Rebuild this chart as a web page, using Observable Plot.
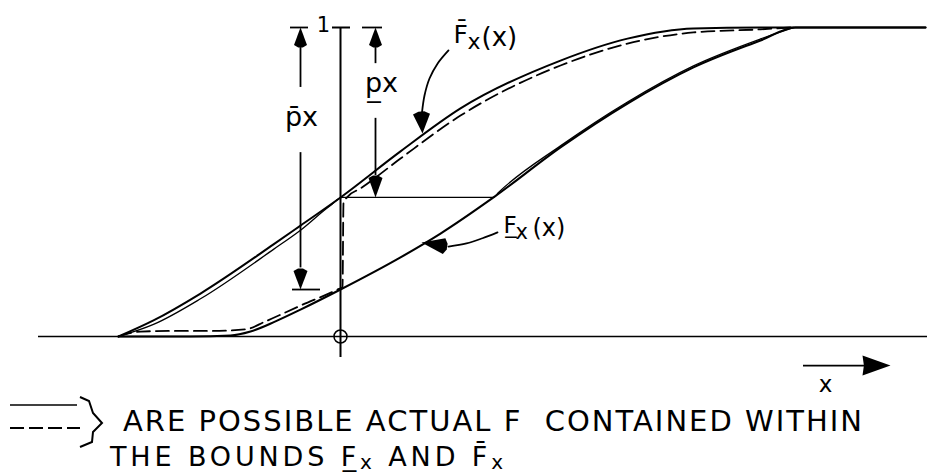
<!DOCTYPE html>
<html>
<head>
<meta charset="utf-8">
<script src="https://cdn.jsdelivr.net/npm/d3@7"></script>
<script src="https://cdn.jsdelivr.net/npm/@observablehq/plot@0.6"></script>
<style>
  html, body { margin: 0; padding: 0; background: #fff; }
  svg { display: block; }
  #key text { font-family: "DejaVu Sans", sans-serif; white-space: pre; }
</style>
</head>
<body>
<div id="chart"></div>
<script>
// Upper bound F̄x(x) of the distribution function
const upperX = [-2.22, -1.87, -1.40, -0.67, -0.40, 0, 0.60, 1.20, 2.20, 2.87, 3.53, 4.20, 4.50, 5.85];
const upperF = [0, 0.052, 0.139, 0.298, 0.359, 0.450, 0.599, 0.738, 0.893, 0.964, 0.997, 1, 1, 1];

// Lower bound F̲x(x)
const lowerX = [-2.22, -1.50, -1.10, -0.90, -0.65, -0.40, 0, 0.60, 1.00, 1.53, 2.20, 2.87, 3.53, 4.20, 4.55, 5.85];
const lowerF = [0, 0, 0.003, 0.016, 0.049, 0.087, 0.152, 0.256, 0.333, 0.450, 0.612, 0.754, 0.871, 0.958, 1, 1];

// A possible actual F (solid): hugs F̄ up to x = 0, steps across, then follows F̲
const actualSolidX = [-2.22, -1.87, -1.40, -0.67, -0.40, -0.10, 0.02, 1.53, 1.58, 2.20, 2.87, 3.53, 4.20, 4.53];
const actualSolidF = [0, 0.039, 0.122, 0.282, 0.344, 0.424, 0.450, 0.450, 0.466, 0.617, 0.759, 0.876, 0.963, 1];

// A possible actual F (dashed): hugs F̲ up to x = 0, jumps, then follows F̄
const actualDashedX = [-2.22, -2.00, -1.70, -1.30, -0.95, -0.75, -0.40, -0.03, 0.02, 0.03, 0.07, 0.20, 0.60, 1.20, 2.20, 2.87, 3.53, 4.20, 4.50];
const actualDashedF = [0, 0.016, 0.018, 0.018, 0.023, 0.049, 0.100, 0.152, 0.160, 0.432, 0.452, 0.479, 0.576, 0.715, 0.877, 0.948, 0.984, 0.994, 1];

const tickLabels = ["1"];

const rows = (xs, fs) => xs.map((x, i) => ({x, F: fs[i]}));
const upper = rows(upperX, upperF);
const lower = rows(lowerX, lowerF);
const actualSolid = rows(actualSolidX, actualSolidF);
const actualDashed = rows(actualDashedX, actualDashedF);

// values of the bounds at the origin
const upperAt0 = upperF[upperX.indexOf(0)];
const lowerAt0 = lowerF[lowerX.indexOf(0)];

// filled arrowhead whose tip sits on the anchor point; angle in degrees (0 = pointing right)
function head(angle, len, half, blunt = true) {
  const a = angle * Math.PI / 180, c = Math.cos(a), s = Math.sin(a);
  const pts = blunt
    ? [[0, 0], [-len * 0.88, -half], [-len, -half * 0.35], [-len, half * 0.35], [-len * 0.88, half]]
    : [[0, 0], [-len, -half], [-len * 0.95, 0], [-len, half]];
  return {
    draw(ctx) {
      pts.forEach(([u, v], i) => {
        const X = u * c - v * s, Y = u * s + v * c;
        i ? ctx.lineTo(X, Y) : ctx.moveTo(X, Y);
      });
      ctx.closePath();
    }
  };
}
const arrow = (x, y, sym) => Plot.dot([{x, y}], {x: "x", y: "y", r: 5, symbol: sym, fill: "black", stroke: "none"});

const ink = {stroke: "black"};

const chart = Plot.plot({
  width: 927,
  height: 396,
  margin: 0,
  x: {domain: [-3.40, 5.87], range: [0, 927], axis: null},
  y: {domain: [0, 1], range: [336, 27], axis: null},
  style: {background: "#fff", fontFamily: "DejaVu Sans, sans-serif", color: "black"},
  marks: [
    // axes
    Plot.ruleY([0], {x1: -3.02, x2: 5.87, ...ink, strokeWidth: 1.4}),
    Plot.ruleX([0], {y1: -0.068, y2: 1, ...ink, strokeWidth: 2}),
    Plot.ruleY([1], {x1: -0.08, x2: 0.10, ...ink, strokeWidth: 2}),
    Plot.text(tickLabels, {x: -0.17, y: 1, text: d => d, fontSize: 21, dy: -2, fill: "black"}),
    Plot.dot([{x: 0, F: 0}], {x: "x", y: "F", r: 6.5, ...ink, fill: "none", strokeWidth: 1.5}),

    // bounds and possible distribution functions
    Plot.line(upper, {x: "x", y: "F", curve: "monotone-x", ...ink, strokeWidth: 2}),
    Plot.line(lower, {x: "x", y: "F", curve: "monotone-x", ...ink, strokeWidth: 2.1}),
    Plot.line(actualSolid, {x: "x", y: "F", curve: "monotone-x", ...ink, strokeWidth: 1.3}),
    Plot.line(actualDashed, {x: "x", y: "F", curve: "monotone-x", ...ink, strokeWidth: 1.8, strokeDasharray: "13,6"}),

    // dimension p̄x : from 1 down to F̲x(0)
    Plot.ruleX([{y1: 0.806, y2: 0.935}, {y1: 0.222, y2: 0.595}], {x: -0.40, y1: "y1", y2: "y2", ...ink, strokeWidth: 1.8}),
    Plot.ruleY([{y: 1, x1: -0.50, x2: -0.32}, {y: lowerAt0, x1: -0.48, x2: -0.20}], {y: "y", x1: "x1", x2: "x2", ...ink, strokeWidth: 1.8}),
    arrow(-0.40, 1, head(-90, 20, 6.5)),
    arrow(-0.40, lowerAt0, head(90, 21, 7)),
    Plot.text(["p\u0304x"], {x: -0.39, y: 0.71, text: d => d, fontSize: 27, fill: "black"}),

    // dimension p̲x : from 1 down to F̄x(0)
    Plot.ruleX([{y1: 0.883, y2: 0.935}, {y1: 0.521, y2: 0.706}], {x: 0.35, y1: "y1", y2: "y2", ...ink, strokeWidth: 1.8}),
    Plot.ruleY([{y: 1, x1: 0.22, x2: 0.42}], {y: "y", x1: "x1", x2: "x2", ...ink, strokeWidth: 1.8}),
    arrow(0.35, 1, head(-90, 20, 6.5)),
    arrow(0.35, upperAt0, head(90, 22, 7)),
    Plot.text(["p\u0332x"], {x: 0.41, y: 0.82, text: d => d, fontSize: 27, fill: "black"}),

    // F̄x(x) label and its pointer
    Plot.text(["F\u0304"], {x: 1.13, y: 0.977, text: d => d, fontSize: 25, textAnchor: "start", fill: "black"}),
    Plot.text(["x"], {x: 1.13, y: 0.977, text: d => d, fontSize: 22, dx: 14, dy: 7, textAnchor: "start", fill: "black"}),
    Plot.text(["(x)"], {x: 1.13, y: 0.977, text: d => d, fontSize: 26, dx: 28, dy: 3, textAnchor: "start", fill: "black"}),
    Plot.line([{x: 1.08, F: 0.926}, {x: 0.97, F: 0.883}, {x: 0.89, F: 0.835}, {x: 0.84, F: 0.780}, {x: 0.815, F: 0.725}],
      {x: "x", y: "F", curve: "catmull-rom", ...ink, strokeWidth: 1.8}),
    arrow(0.82, 0.657, head(87, 22, 8.5)),

    // F̲x(x) label and its pointer
    Plot.text(["F\u0332"], {x: 1.63, y: 0.359, text: d => d, fontSize: 23, textAnchor: "start", fill: "black"}),
    Plot.text(["x"], {x: 1.63, y: 0.359, text: d => d, fontSize: 21, dx: 12, dy: 7, textAnchor: "start", fill: "black"}),
    Plot.text(["(x)"], {x: 1.63, y: 0.359, text: d => d, fontSize: 24, dx: 29, dy: 3, textAnchor: "start", fill: "black"}),
    Plot.line([{x: 1.57, F: 0.337}, {x: 1.42, F: 0.318}, {x: 1.26, F: 0.301}, {x: 1.08, F: 0.291}],
      {x: "x", y: "F", curve: "catmull-rom", ...ink, strokeWidth: 1.8}),
    arrow(0.81, 0.304, head(189, 26, 8)),

    // x direction arrow
    Plot.ruleY([-0.094], {x1: 4.63, x2: 5.25, ...ink, strokeWidth: 1.8}),
    arrow(5.50, -0.094, head(0, 28, 10, false)),
    Plot.text(["x"], {x: 4.85, y: -0.155, text: d => d, fontSize: 23, fill: "black"})
  ]
});
document.getElementById("chart").append(chart);

// key below the chart: line styles and caption
const key = d3.create("svg").attr("id", "key").attr("width", 927).attr("height", 79);
key.append("line").attr("x1", 10).attr("x2", 77).attr("y1", 9).attr("y2", 9)
  .attr("stroke", "black").attr("stroke-width", 1.6);
key.append("line").attr("x1", 10).attr("x2", 80).attr("y1", 32).attr("y2", 32)
  .attr("stroke", "black").attr("stroke-width", 2).attr("stroke-dasharray", "14,5");
key.append("path").attr("d", "M80,1 L89,5 L93,17 L102,27 L93,36 L92,46 L80,51")
  .attr("fill", "none").attr("stroke", "black").attr("stroke-width", 2);

key.append("text").attr("x", 123).attr("y", 35).attr("font-size", 29)
  .attr("textLength", 739).attr("lengthAdjust", "spacing")
  .text("ARE POSSIBLE ACTUAL F  CONTAINED WITHIN");

const line2 = key.append("text").attr("x", 110).attr("y", 70).attr("font-size", 27)
  .attr("textLength", 393).attr("lengthAdjust", "spacing");
line2.append("tspan").text("THE BOUNDS F\u0332");
line2.append("tspan").attr("font-size", 20).attr("dy", 3).text("x");
line2.append("tspan").attr("dy", -3).text(" AND F\u0304");
line2.append("tspan").attr("font-size", 20).attr("dy", 3).text("x");

document.body.append(key.node());
</script>
</body>
</html>
